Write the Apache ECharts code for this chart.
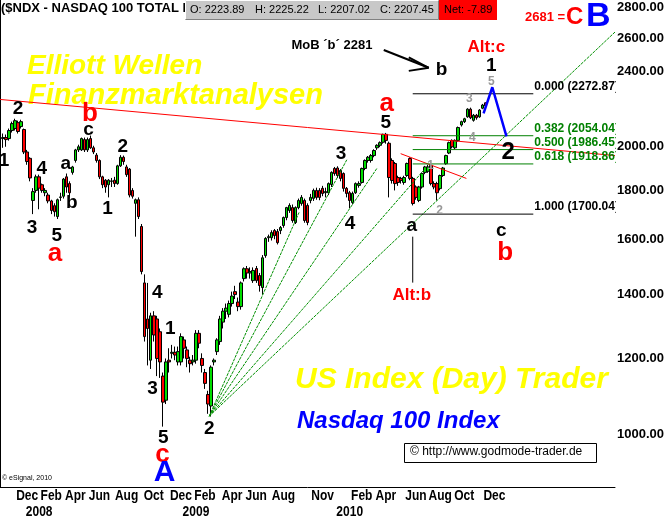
<!DOCTYPE html>
<html><head><meta charset="utf-8">
<script src="https://cdn.jsdelivr.net/npm/echarts@6/dist/echarts.min.js"></script>
<style>html,body{margin:0;padding:0;background:#fff}#c{width:667px;height:518px}</style>
</head><body><div id="c"></div>
<script>
// ---------- data ----------
const weekCount = 205; // week slots on the x axis (index 0 .. 204)
const openP  = [2040,2045,2040,2080,2090,2120,2100,2085,1975,1945,1757,1800,1860,1825,1790,1780,1755,1735,1690,1770,1775,1860,1830,1880,1935,1985,1985,2035,1985,2040,1995,1960,1935,1860,1845,1825,1840,1845,1830,1910,1950,1905,1895,1800,1745,1760,1650,1440,1320,1195,1330,1320,1280,1150,1085,1195,1215,1218,1190,1190,1255,1225,1195,1190,1195,1275,1200,1160,1100,1070,1190,1220,1250,1310,1345,1335,1370,1410,1375,1360,1455,1490,1475,1448,1491,1466,1424,1538,1606,1606,1634,1630,1634,1654,1686,1715,1727,1666,1727,1744,1757,1736,1757,1766,1800,1800,1809,1790,1790,1826,1898,1900,1889,1875,1809,1790,1748,1790,1822,1835,1898,1935,1935,1958,1995,2007,2022,2061,2017,1935,1921,1857,1853,1835,1866,1944,1853,1815,1757,1815,1880,1885,1912,1830,1830,1808,1866,1920,1970,2031,1995,2031,2108,2125,2150,2190,2132,2158,2150,2195,2223.89];
const closeP = [2045,2035,2080,2115,2130,2075,2125,1975,1930,1855,1795,1860,1810,1800,1800,1755,1715,1710,1760,1772,1850,1815,1790,1905,1985,2000,2040,1985,2035,1995,1975,1935,1860,1825,1815,1845,1842,1830,1910,1950,1930,1870,1780,1775,1760,1690,1480,1265,1290,1330,1270,1200,1190,1080,1190,1190,1218,1210,1220,1265,1230,1200,1185,1195,1275,1245,1180,1130,1075,1175,1195,1255,1320,1345,1355,1370,1395,1400,1360,1440,1490,1475,1480,1484,1448,1431,1530,1603,1610,1626,1614,1587,1646,1686,1727,1736,1674,1727,1757,1770,1674,1666,1770,1800,1770,1770,1787,1795,1830,1880,1875,1866,1853,1809,1787,1757,1787,1830,1830,1898,1935,1950,1958,1982,2007,2020,2061,2031,1857,1844,1830,1835,1844,1857,1921,1853,1744,1770,1815,1875,1905,1905,1830,1815,1790,1866,1900,1958,2020,2000,2031,2095,2125,2140,2190,2145,2158,2145,2185,2212,2207.45];
const lowP   = [1995,2000,2030,2070,2080,2065,2090,1965,1915,1840,1700,1790,1720,1790,1775,1745,1700,1690,1680,1755,1765,1790,1770,1870,1925,1975,1980,1975,1975,1990,1965,1925,1850,1810,1790,1770,1815,1815,1825,1905,1915,1860,1770,1765,1610,1680,1470,1250,1180,1170,1250,1150,1145,1018,1075,1160,1200,1195,1180,1180,1200,1175,1160,1180,1185,1230,1160,1115,1050,1043,1180,1210,1240,1290,1320,1325,1360,1385,1345,1350,1445,1455,1455,1440,1440,1410,1400,1530,1590,1595,1600,1580,1620,1645,1675,1705,1665,1660,1720,1735,1665,1655,1745,1755,1760,1758,1775,1770,1780,1815,1865,1855,1840,1795,1770,1725,1740,1785,1812,1830,1890,1925,1925,1950,1985,1998,2015,2015,1770,1830,1800,1820,1830,1825,1860,1845,1736,1760,1750,1808,1872,1878,1822,1805,1757,1800,1860,1915,1965,1992,1988,2025,2100,2118,2145,2138,2125,2135,2145,2190,2207.02];
const highP  = [2065,2060,2090,2125,2140,2130,2135,2090,1985,1950,1810,1870,1870,1830,1810,1790,1760,1745,1765,1790,1855,1875,1840,1910,1990,2010,2045,2045,2045,2055,2005,1970,1940,1865,1850,1850,1855,1860,1915,1960,1958,1915,1900,1810,1765,1770,1660,1470,1440,1340,1345,1330,1290,1160,1200,1230,1240,1235,1235,1275,1265,1235,1205,1210,1285,1285,1215,1170,1110,1180,1200,1260,1330,1355,1370,1380,1410,1430,1390,1445,1495,1500,1495,1495,1500,1475,1540,1608,1618,1635,1640,1640,1652,1690,1730,1745,1740,1732,1765,1780,1765,1745,1785,1808,1812,1810,1820,1812,1835,1885,1905,1908,1895,1880,1815,1798,1795,1835,1840,1902,1940,1956,1965,1988,2012,2026,2064,2068,2025,1945,1928,1865,1860,1865,1925,1950,1860,1822,1820,1880,1910,1915,1918,1840,1838,1870,1905,1962,2025,2036,2036,2100,2130,2145,2195,2198,2165,2165,2190,2218,2225.22];
const lastPrice = 2207.45;

// tick labels
const yTickValues = [1000,1200,1400,1600,1800,2000,2400,2600,2800];
const monthLabels = ['Dec','Feb','Apr','Jun','Aug','Oct','Dec','Feb','Apr','Jun','Aug','Nov','Feb','Apr','Jun','Aug','Oct','Dec'];
const monthLabelIdx = [9,17,25,33,42,51,60,68,77,85,94,107,120,128,138,146,154,164];
const yearLabels = ['2008','2009','2010'];
const yearLabelIdx = [13,65,116];

// Elliott wave annotations (anchor: week index, price)
const waveText = ['1','2','3','4','5','a','a','b','c','b','1','2','3','4','5','1','c','A','2','3','4','5','a','a','Alt:b','1','2','3','4','5','1','Alt:c','b','MoB ´b´ 2281','2','c','b'];
const waveX    = [1.3,6.0,10.6,13.9,18.8,18.2,21.8,23.8,29.4,29.8,35.7,40.7,50.6,52.2,54.2,56.5,53.9,54.6,69.4,113.1,116.1,128.0,128.3,136.6,136.6,142.8,145.8,155.7,156.7,163.0,163.0,161.3,146.5,110.1,168.6,166.3,167.6];
const waveV    = [1935,2194,1646,1898,1614,1546,1921,1749,2086,2168,1723,2002,1116,1407,991,1290,951,910,1012,1967,1662,2117,2220,1654,1397,1912,1715,2248,2046,2340,2431,2540,2408,2553,1972,1634,1549];
const waveKind = ['num','num','num','num','num','red','num','num','num','red','num','num','num','num','num','num','red','blue','num','num','num','num','red','num','alt','gray','gray','gray','gray','gray','num','alt','num','note','big','num','red'];

// Fibonacci retracement
const fibText  = ['0.000 (2272.87)','0.382 (2054.04)','0.500 (1986.45)','0.618 (1918.86)','1.000 (1700.04)'];
const fibValue = [2272.87, 2054.04, 1986.45, 1918.86, 1700.04];
const fibKind  = ['black','green','green','green','black'];
const fibFrom = 136.9, fibTo = 176.9;

// trend / fan lines (week index, price)
const redTrend   = [[0, 2242], [204, 1958]];
const redShort   = [[132.9, 1967], [154.7, 1853]];
const blueProj   = [[160.4, 2168], [163.3, 2309], [168.0, 2051]];
const fanOrigin  = [69.4, 1044];
const fanEnds    = [[99.2, 1707], [115.1, 1940], [125.0, 1898], [140.5, 1889], [204, 2638]];
const altLine    = [[136.9, 1610], [136.9, 1441]];
const mobArrow   = [[[127.3, 2526], [142.2, 2420]], [[135.6, 2481], [142.2, 2420]], [[135.6, 2402], [142.2, 2420]]];

// ---------- chart ----------
const yMin = 880, yMax = 2850;
const categories = Array.from({length: weekCount}, (_, i) => String(i));
const candleData = ['-'].concat(openP.map((o, k) => [o, closeP[k], lowP[k], highP[k]]));

const kindStyle = {
  num:  {font: 'bold 19px "Liberation Sans", Arial', fill: '#000'},
  big:  {font: 'bold 24px "Liberation Sans", Arial', fill: '#000'},
  red:  {font: 'bold 26px "Liberation Sans", Arial', fill: '#ff0000'},
  blue: {font: 'bold 30px "Liberation Sans", Arial', fill: '#0000ff'},
  gray: {font: 'bold 12px "Liberation Sans", Arial', fill: '#999999'},
  alt:  {font: 'bold 17px "Liberation Sans", Arial', fill: '#ff0000'},
  note: {font: 'bold 13px "Liberation Sans", Arial', fill: '#000'}
};
const fibColor = {black: '#000000', green: '#008000'};

function lineSeries(points, color, width, type, z) {
  return {type: 'line', xAxisIndex: 1, yAxisIndex: 0, data: points, symbol: 'none', silent: true,
    lineStyle: {color: color, width: width, type: type || 'solid'}, z: z || 5, animation: false, clip: true};
}

const series = [];
series.push({
  type: 'candlestick', xAxisIndex: 0, yAxisIndex: 0, data: candleData, barWidth: 3,
  itemStyle: {color: '#00dd00', color0: '#ff0000', borderColor: '#000', borderColor0: '#000', borderWidth: 1},
  z: 3,
  markLine: {silent: true, symbol: 'none', animation: false,
    lineStyle: {opacity: 0},
    data: [{yAxis: lastPrice}],
    label: {show: true, position: 'end', distance: 2, formatter: () => lastPrice.toFixed(2),
      backgroundColor: '#ff0000', color: '#fff', fontWeight: 'bold', fontSize: 13,
      fontFamily: '"Liberation Sans", Arial', padding: [1, 1, 0, 1]}}
});
series.push(lineSeries(redTrend, '#ff0000', 1));
series.push(lineSeries(redShort, '#ff0000', 1));
fanEnds.forEach(e => series.push(lineSeries([fanOrigin, e], '#009000', 1, [3, 1])));
fibValue.forEach((v, k) => series.push(lineSeries([[fibFrom, v], [fibTo, v]], fibColor[fibKind[k]], 1)));
series.push(lineSeries(altLine, '#000', 1));
mobArrow.forEach(seg => series.push(lineSeries(seg, '#000', 2)));
series.push(lineSeries(blueProj, '#0000ff', 2.5, 'solid', 6));

// wave labels
series.push({
  type: 'custom', xAxisIndex: 1, yAxisIndex: 0, silent: true, z: 10, animation: false,
  data: waveX.map((x, k) => [x, waveV[k]]),
  renderItem: (params, api) => {
    const k = params.dataIndex;
    const p = api.coord([api.value(0), api.value(1)]);
    const st = kindStyle[waveKind[k]];
    return {type: 'text', x: p[0], y: p[1], style: {text: waveText[k], font: st.font, fill: st.fill, align: 'center', verticalAlign: 'middle'}};
  }
});
// fib labels (clipped to plot)
series.push({
  type: 'custom', xAxisIndex: 1, yAxisIndex: 0, silent: true, z: 10, clip: true, animation: false,
  data: fibValue.map(v => [fibTo + 0.3, v]),
  renderItem: (params, api) => {
    const k = params.dataIndex;
    const p = api.coord([api.value(0), api.value(1)]);
    return {type: 'text', x: p[0], y: p[1] - 1, style: {text: fibText[k], font: 'bold 12px "Liberation Sans", Arial', fill: fibColor[fibKind[k]], align: 'left', verticalAlign: 'bottom'}};
  }
});
// x-axis tick labels (condensed bold, placed through the category axis)
function axisTextSeries(idx, texts, dy) {
  return {
    type: 'custom', xAxisIndex: 0, yAxisIndex: 0, silent: true, z: 10, clip: false, animation: false,
    data: idx.map(i => [i, yMin]),
    renderItem: (params, api) => {
      const p = api.coord([api.value(0), yMin]);
      return {type: 'text', x: p[0], y: p[1] + dy, scaleX: 0.8,
        style: {text: texts[params.dataIndex], font: 'bold 15px "Liberation Sans", Arial', fill: '#000', align: 'center', verticalAlign: 'middle'}};
    }
  };
}
series.push(axisTextSeries(monthLabelIdx, monthLabels, 9));
series.push(axisTextSeries(yearLabelIdx, yearLabels, 25));

const shadow = {shadowColor: 'rgba(0,0,0,0.6)', shadowBlur: 4, shadowOffsetX: 4, shadowOffsetY: 4};
const boxFont = '11px "Liberation Sans", Arial';
const graphic = [
  {type: 'text', left: 1, top: 2, style: {text: '($NDX - NASDAQ 100 TOTAL F', font: 'bold 13px "Liberation Sans", Arial', fill: '#000'}},
  {type: 'rect', shape: {x: 185, y: 0, width: 254, height: 20}, style: {fill: '#c8c8c8'}},
  {type: 'polyline', shape: {points: [[185.5, 19.5], [185.5, 0.5], [438.5, 0.5]]}, style: {stroke: '#ffffff', lineWidth: 1, fill: null}},
  {type: 'polyline', shape: {points: [[185.5, 19.5], [438.5, 19.5], [438.5, 0.5]]}, style: {stroke: '#808080', lineWidth: 1, fill: null}},
  {type: 'text', x: 190, y: 4, style: {text: 'O: 2223.89', font: boxFont, fill: '#000'}},
  {type: 'text', x: 255, y: 4, style: {text: 'H: 2225.22', font: boxFont, fill: '#000'}},
  {type: 'text', x: 318, y: 4, style: {text: 'L: 2207.02', font: boxFont, fill: '#000'}},
  {type: 'text', x: 380, y: 4, style: {text: 'C: 2207.45', font: boxFont, fill: '#000'}},
  {type: 'rect', shape: {x: 439, y: 0, width: 58, height: 20}, style: {fill: '#ff0000'}},
  {type: 'text', x: 444, y: 4, style: {text: 'Net: -7.89', font: boxFont, fill: '#000'}},
  {type: 'text', x: 525, y: 11, style: {text: '2681 =', font: 'bold 13px "Liberation Sans", Arial', fill: '#ff0000'}},
  {type: 'text', x: 566, y: 5, style: {text: 'C', font: 'bold 24px "Liberation Sans", Arial', fill: '#ff0000'}},
  {type: 'text', x: 586, y: 0, style: {text: 'B', font: 'bold 34px "Liberation Sans", Arial', fill: '#0000ff'}},
  {type: 'text', x: 27, y: 52, style: Object.assign({text: 'Elliott Wellen', font: 'italic bold 28px "Liberation Sans", Arial', fill: '#ffff00', verticalAlign: 'alphabetic'}, shadow)},
  {type: 'text', x: 28, y: 81, style: Object.assign({text: 'Finanzmarktanalysen', font: 'italic bold 29px "Liberation Sans", Arial', fill: '#ffff00', verticalAlign: 'alphabetic'}, shadow)},
  {type: 'text', x: 295, y: 365, style: Object.assign({text: 'US Index (Day) Trader', font: 'italic bold 30px "Liberation Sans", Arial', fill: '#ffff00', verticalAlign: 'alphabetic'}, shadow)},
  {type: 'text', x: 297, y: 409, style: Object.assign({text: 'Nasdaq 100 Index', font: 'italic bold 24px "Liberation Sans", Arial', fill: '#0000ff', verticalAlign: 'alphabetic'}, shadow)},
  {type: 'rect', shape: {x: 404.5, y: 443.5, width: 192, height: 19}, style: {fill: '#fff', stroke: '#000', lineWidth: 1}},
  {type: 'text', x: 410, y: 446, style: {text: '© http://www.godmode-trader.de', font: '12px "Liberation Sans", Arial', fill: '#000'}},
  {type: 'text', x: 2, y: 475, style: {text: '© eSignal, 2010', font: '7px "Liberation Sans", Arial', fill: '#000'}}
];

const axisFont = '"Liberation Sans", Arial';
const chart = echarts.init(document.getElementById('c'), null, {renderer: 'canvas'});
chart.setOption({
  animation: false,
  backgroundColor: '#ffffff',
  grid: {left: 0, right: 50, top: 0, bottom: 31, containLabel: false},
  xAxis: [
    {type: 'category', data: categories, boundaryGap: false,
      axisLine: {onZero: false, lineStyle: {color: '#000', width: 1}}, axisTick: {show: false}, splitLine: {show: false},
      axisLabel: {show: false}},
    {type: 'value', min: 0, max: weekCount - 1, show: false}
  ],
  yAxis: [{
    type: 'log', logBase: 10, min: yMin, max: yMax, position: 'right',
    axisLine: {show: true, lineStyle: {color: '#000', width: 1}}, axisTick: {show: false}, splitLine: {show: false},
    axisLabel: {customValues: yTickValues, formatter: (v) => Number(v).toFixed(2), color: '#000', fontWeight: 'bold', fontSize: 13,
      fontFamily: axisFont, margin: 2}
  }],
  series: series,
  graphic: graphic
});
</script></body></html>
